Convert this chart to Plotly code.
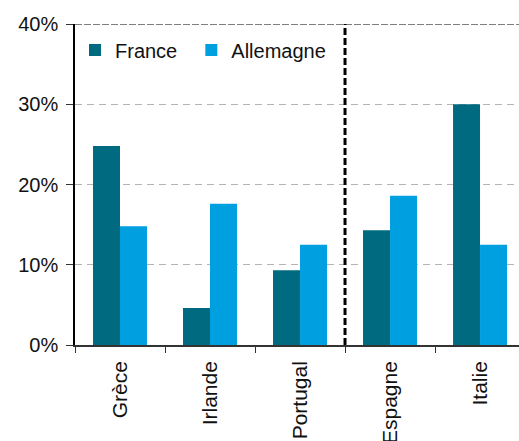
import plotly.graph_objects as go

# Country groups and their values (%)
countries = ["Grèce", "Irlande", "Portugal", "Espagne", "Italie"]
france = [24.8, 4.6, 9.3, 14.3, 30.0]
allemagne = [14.8, 17.6, 12.5, 18.6, 12.5]
y_ticks = [0, 10, 20, 30, 40]
y_tick_text = ["0%", "10%", "20%", "30%", "40%"]

FONT = "Liberation Sans, Arial, sans-serif"
C_FRANCE = "#006A80"
C_ALLEMAGNE = "#009FE0"
TXT = "#111111"

fig = go.Figure()
fig.add_trace(go.Bar(name="France", x=countries, y=france, legend="legend",
                     marker=dict(color=C_FRANCE, line=dict(width=0))))
fig.add_trace(go.Bar(name="Allemagne", x=countries, y=allemagne, legend="legend2",
                     marker=dict(color=C_ALLEMAGNE, line=dict(width=0))))

# darker top border line at 40%
fig.add_shape(type="line", xref="paper", yref="y", x0=0, x1=1, y0=40, y1=40,
              line=dict(color="#555555", width=1.5, dash="7px,2px"), layer="above")
# separator between the two country groups
fig.add_shape(type="line", xref="x", yref="y", x0=2.5, x1=2.5, y0=0, y1=40,
              line=dict(color="black", width=3, dash="7px,3px"), layer="above")

legend_style = dict(orientation="h", y=0.98, xanchor="left", yanchor="top",
                    bgcolor="rgba(0,0,0,0)", font=dict(size=20, color=TXT))

fig.update_layout(
    width=519, height=441,
    margin=dict(l=75, r=0, t=24, b=96, autoexpand=False),
    paper_bgcolor="white", plot_bgcolor="white",
    barmode="group", bargap=0.4, bargroupgap=0,
    font=dict(family=FONT, size=20, color=TXT),
    showlegend=True,
    legend=dict(x=0.0, **legend_style),
    legend2=dict(x=0.262, **legend_style),
    xaxis=dict(range=[-0.5, 4.433], showline=True, linecolor="#333333", linewidth=1.5,
               ticks="outside", tickson="boundaries", ticklen=6, tickcolor="#333333",
               tickangle=-90, tickfont=dict(size=21, color=TXT), showgrid=False,
               ticklabelstandoff=6, automargin=False),
    yaxis=dict(range=[0, 40], tickvals=y_ticks, ticktext=y_tick_text,
               showline=True, linecolor="black", linewidth=1.5,
               ticks="outside", ticklen=7, tickcolor="#333333",
               showgrid=True, gridcolor="#b3b3b3", griddash="7px,5px", gridwidth=1,
               zeroline=False, tickfont=dict(size=20, color=TXT),
               ticklabelstandoff=4, automargin=False),
)

fig.write_html("out.html")
